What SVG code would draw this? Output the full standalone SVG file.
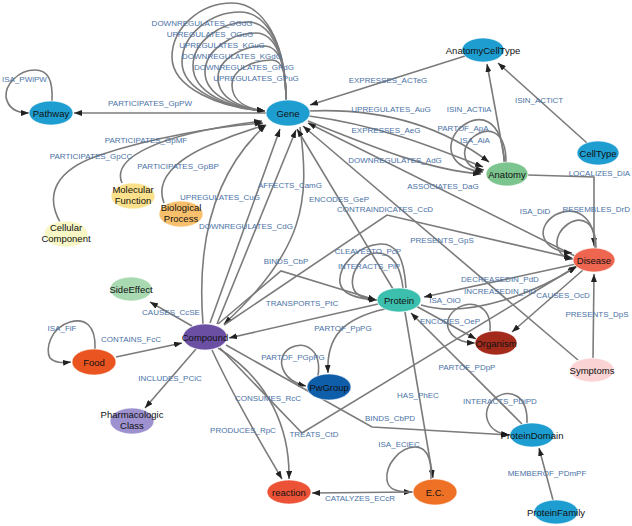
<svg xmlns="http://www.w3.org/2000/svg" width="632" height="526" viewBox="0 0 632 526">
<defs>
<style>
.e{fill:none;stroke:#7b7b7b;stroke-width:1.6;marker-end:url(#ah)}
.n{font-family:"Liberation Sans",Arial,sans-serif;font-size:9.5px;fill:#111;text-anchor:middle}
.l{font-family:"Liberation Sans",Arial,sans-serif;font-size:8px;fill:#4a72a6;text-anchor:middle}
ellipse{stroke:#ffffff;stroke-opacity:0.6;stroke-width:1}
</style>
<marker id="ah" viewBox="0 0 8 6" refX="8" refY="3" markerWidth="8" markerHeight="6" markerUnits="userSpaceOnUse" orient="auto"><path d="M0,0 L8,3 L0,6 z" fill="#222"/></marker>
</defs>
<rect width="632" height="526" fill="#fff"/>
<g id="edges">
<path class="e" d="M286,100 C286,40 262,3 232,3 C200,3 172,28 172,57 C172,88 220,108 265,111"/>
<path class="e" d="M286,100 C286,45 266,12 240,12 C210,12 182,35 182,62 C182,90 225,108 265,111"/>
<path class="e" d="M286,100 C286,52 270,22 248,22 C220,22 193,42 193,66 C193,92 228,108 265,111"/>
<path class="e" d="M286,100 C286,60 275,33 256,33 C232,33 205,50 205,72 C205,95 235,108 265,111"/>
<path class="e" d="M286,100 C286,68 280,46 264,46 C244,46 218,58 218,78 C218,98 240,108 265,111"/>
<path class="e" d="M286,100 C286,78 284,60 272,60 C256,60 232,68 232,85 C232,102 248,109 265,111"/>
<path class="e" d="M52,101 C53,80 48,70 35,70 C18,70 5,85 6,97 C8,108 16,113 29,113"/>
<path class="e" d="M266,113 L74,113"/>
<path class="e" d="M122,183 C112,160 150,135 262,121"/>
<path class="e" d="M60,222 C45,195 55,170 100,155 C150,138 220,126 263,123"/>
<path class="e" d="M164,203 C155,180 175,160 210,145 C235,134 255,128 266,125"/>
<path class="e" d="M203,324 C198,260 205,180 266,125"/>
<path class="e" d="M210,323 L280,129"/>
<path class="e" d="M217,324 L296,130"/>
<path class="e" d="M300,127 C310,200 305,250 224,324"/>
<path class="e" d="M393,289 L297,129"/>
<path class="e" d="M578,360 L303,126"/>
<path class="e" d="M575,256 L308,123"/>
<path class="e" d="M465,56 L310,105"/>
<path class="e" d="M309,111 C380,108 440,125 489,162"/>
<path class="e" d="M309,116 C380,125 440,150 483,167"/>
<path class="e" d="M308,121 C380,150 430,170 481,174"/>
<path class="e" d="M504,162 C503,118 478,110 458,130 C445,145 448,168 483,172"/>
<path class="e" d="M506,162 C506,130 488,125 472,138 C460,150 462,168 484,170"/>
<path class="e" d="M505,162 L487,64"/>
<path class="e" d="M587,143 L498,63"/>
<path class="e" d="M528,175 L594,177 L594,246"/>
<path class="e" d="M595,248 C595,215 575,205 555,215 C535,228 540,250 572,253"/>
<path class="e" d="M596,248 C596,222 582,215 568,224 C552,235 553,256 573,259"/>
<path class="e" d="M576,264 L424,297"/>
<path class="e" d="M583,270 L512,332"/>
<path class="e" d="M593,358 L594,274"/>
<path class="e" d="M421,305 C470,320 540,290 576,267"/>
<path class="e" d="M406,288 C404,255 395,243 380,244 C355,246 338,268 340,283 C342,295 360,299 377,300"/>
<path class="e" d="M403,288 C400,262 390,252 375,253 C360,255 350,275 353,287 C355,296 365,299 377,300"/>
<path class="e" d="M378,304 L229,338"/>
<path class="e" d="M218,324 L281,271 L376,300"/>
<path class="e" d="M224,325 L387,215 L572,258"/>
<path class="e" d="M385,309 C345,318 326,335 328,373"/>
<path class="e" d="M318,376 C322,350 305,340 290,348 C275,357 280,380 306,386"/>
<path class="e" d="M226,345 L372,427 L510,435"/>
<path class="e" d="M522,424 L411,313"/>
<path class="e" d="M405,312 L433,478"/>
<path class="e" d="M416,306 L476,339"/>
<path class="e" d="M490,331 C492,305 470,298 455,310 C440,322 448,342 475,343"/>
<path class="e" d="M527,423 C528,395 510,388 495,398 C480,410 485,432 509,435"/>
<path class="e" d="M553,500 L539,448"/>
<path class="e" d="M431,479 C432,455 425,447 415,447 C400,447 385,465 387,480 C388,490 398,492 412,492"/>
<path class="e" d="M413,492 L312,493"/>
<path class="e" d="M212,350 C235,400 265,450 282,479"/>
<path class="e" d="M218,348 C270,380 290,430 289,479"/>
<path class="e" d="M220,348 L302,433 L577,266"/>
<path class="e" d="M95,349 C96,325 85,318 70,322 C50,328 45,350 50,358 C55,363 62,363 71,362"/>
<path class="e" d="M116,357 L182,343"/>
<path class="e" d="M196,349 L145,408"/>
<path class="e" d="M192,326 L150,302"/>
</g>
<g id="edge-labels">
<text class="l" x="202" y="26">DOWNREGULATES_OGdG</text>
<text class="l" x="210" y="37">UPREGULATES_OGuG</text>
<text class="l" x="222" y="48">UPREGULATES_KGuG</text>
<text class="l" x="232" y="59">DOWNREGULATES_KGdG</text>
<text class="l" x="244" y="70">DOWNREGULATES_GPdG</text>
<text class="l" x="256" y="81">UPREGULATES_GPuG</text>
<text class="l" x="2" y="82" style="text-anchor:start">ISA_PWiPW</text>
<text class="l" x="150" y="106">PARTICIPATES_GpPW</text>
<text class="l" x="146" y="143">PARTICIPATES_GpMF</text>
<text class="l" x="91" y="159">PARTICIPATES_GpCC</text>
<text class="l" x="178" y="169">PARTICIPATES_GpBP</text>
<text class="l" x="220" y="200">UPREGULATES_CuG</text>
<text class="l" x="290" y="188">AFFECTS_CamG</text>
<text class="l" x="246" y="229">DOWNREGULATES_CdG</text>
<text class="l" x="339" y="202">ENCODES_GeP</text>
<text class="l" x="385" y="212">CONTRAINDICATES_CcD</text>
<text class="l" x="388" y="83">EXPRESSES_ACTeG</text>
<text class="l" x="391" y="112">UPREGULATES_AuG</text>
<text class="l" x="386" y="133">EXPRESSES_AeG</text>
<text class="l" x="395" y="163">DOWNREGULATES_AdG</text>
<text class="l" x="469" y="112">ISIN_ACTiiA</text>
<text class="l" x="463" y="131">PARTOF_ApA</text>
<text class="l" x="475" y="143">ISA_AiA</text>
<text class="l" x="539" y="103">ISIN_ACTiCT</text>
<text class="l" x="630" y="176" style="text-anchor:end">LOCALIZES_DlA</text>
<text class="l" x="443" y="189">ASSOCIATES_DaG</text>
<text class="l" x="535" y="214">ISA_DiD</text>
<text class="l" x="630" y="212" style="text-anchor:end">RESEMBLES_DrD</text>
<text class="l" x="442" y="243">PRESENTS_GpS</text>
<text class="l" x="368" y="254">CLEAVESTO_PcP</text>
<text class="l" x="369" y="269">INTERACTS_PiP</text>
<text class="l" x="286" y="264">BINDS_CbP</text>
<text class="l" x="302" y="306">TRANSPORTS_PtC</text>
<text class="l" x="500" y="282">DECREASEDIN_PdD</text>
<text class="l" x="500" y="294">INCREASEDIN_PiD</text>
<text class="l" x="563" y="298">CAUSES_OcD</text>
<text class="l" x="445" y="303">ISA_OiO</text>
<text class="l" x="450" y="324">ENCODES_OeP</text>
<text class="l" x="597" y="317">PRESENTS_DpS</text>
<text class="l" x="171" y="315">CAUSES_CcSE</text>
<text class="l" x="62" y="331">ISA_FiF</text>
<text class="l" x="131" y="342">CONTAINS_FcC</text>
<text class="l" x="343" y="331">PARTOF_PpPG</text>
<text class="l" x="293" y="360">PARTOF_PGpPG</text>
<text class="l" x="170" y="381">INCLUDES_PCiC</text>
<text class="l" x="268" y="401">CONSUMES_RcC</text>
<text class="l" x="243" y="433">PRODUCES_RpC</text>
<text class="l" x="314" y="437">TREATS_CtD</text>
<text class="l" x="418" y="398">HAS_PhEC</text>
<text class="l" x="390" y="421">BINDS_CbPD</text>
<text class="l" x="467" y="370">PARTOF_PDpP</text>
<text class="l" x="500" y="404">INTERACTS_PDiPD</text>
<text class="l" x="399" y="447">ISA_ECiEC</text>
<text class="l" x="360" y="501">CATALYZES_ECcR</text>
<text class="l" x="547" y="476">MEMBEROF_PDmPF</text>
</g>
<g id="node-pathway"><ellipse cx="51" cy="113" rx="22" ry="12" fill="#1e9dd0"/><text class="n" x="51" y="117">Pathway</text></g>
<g id="node-gene"><ellipse cx="288" cy="113" rx="22" ry="13" fill="#1e9dd0"/><text class="n" x="288" y="117">Gene</text></g>
<g id="node-anatomycelltype"><ellipse cx="483" cy="50" rx="21" ry="12" fill="#1e9dd0"/><text class="n" x="483" y="54">AnatomyCellType</text></g>
<g id="node-celltype"><ellipse cx="598" cy="153" rx="21" ry="12" fill="#1e9dd0"/><text class="n" x="598" y="157">CellType</text></g>
<g id="node-anatomy"><ellipse cx="507" cy="174" rx="21" ry="12" fill="#7dc58f"/><text class="n" x="507" y="178">Anatomy</text></g>
<g id="node-disease"><ellipse cx="594" cy="260" rx="21" ry="12" fill="#ef6650"/><text class="n" x="594" y="264">Disease</text></g>
<g id="node-protein"><ellipse cx="399" cy="300" rx="22" ry="12" fill="#3dbfae"/><text class="n" x="399" y="304">Protein</text></g>
<g id="node-organism"><ellipse cx="496" cy="343" rx="21" ry="12" fill="#a32b1c"/><text class="n" x="496" y="347">Organism</text></g>
<g id="node-symptoms"><ellipse cx="592" cy="370" rx="22" ry="12" fill="#fad4d4"/><text class="n" x="592" y="374">Symptoms</text></g>
<g id="node-sideeffect"><ellipse cx="131" cy="289" rx="21" ry="12" fill="#a9d9b1"/><text class="n" x="131" y="293">SideEffect</text></g>
<g id="node-compound"><ellipse cx="205" cy="337" rx="22" ry="13" fill="#6a4fa3"/><text class="n" x="205" y="341">Compound</text></g>
<g id="node-food"><ellipse cx="94" cy="362" rx="22" ry="13" fill="#e95420"/><text class="n" x="94" y="366">Food</text></g>
<g id="node-pharmacologic-class"><ellipse cx="132" cy="421" rx="22" ry="13" fill="#9d92cf"/><text class="n" x="132" y="418">Pharmacologic</text><text class="n" x="132" y="429">Class</text></g>
<g id="node-pwgroup"><ellipse cx="329" cy="387" rx="22" ry="13" fill="#0f5ea9"/><text class="n" x="329" y="391">PwGroup</text></g>
<g id="node-proteindomain"><ellipse cx="532" cy="435" rx="22" ry="12" fill="#1e9dd0"/><text class="n" x="532" y="439">ProteinDomain</text></g>
<g id="node-proteinfamily"><ellipse cx="556" cy="512" rx="22" ry="12" fill="#1e9dd0"/><text class="n" x="556" y="516">ProteinFamily</text></g>
<g id="node-reaction"><ellipse cx="289" cy="492" rx="22" ry="12" fill="#ec5236"/><text class="n" x="289" y="496">reaction</text></g>
<g id="node-ec"><ellipse cx="435" cy="492" rx="22" ry="13" fill="#ef7125"/><text class="n" x="435" y="496">E.C.</text></g>
<g id="node-molecular-function"><ellipse cx="133" cy="196" rx="22" ry="13" fill="#fce18d"/><text class="n" x="133" y="193">Molecular</text><text class="n" x="133" y="204">Function</text></g>
<g id="node-biological-process"><ellipse cx="181" cy="214" rx="22" ry="13" fill="#f8c06c"/><text class="n" x="181" y="211">Biological</text><text class="n" x="181" y="222">Process</text></g>
<g id="node-cellular-component"><ellipse cx="66" cy="234" rx="22" ry="13" fill="#f7f6c4"/><text class="n" x="66" y="231">Cellular</text><text class="n" x="66" y="242">Component</text></g>
</svg>
